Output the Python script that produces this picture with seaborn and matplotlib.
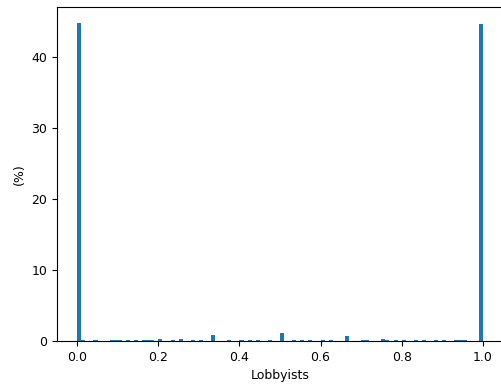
import matplotlib
matplotlib.use("Agg")
import matplotlib.pyplot as plt
import seaborn as sns
import pandas as pd

# bin centers (0.00-0.01, ..., 0.99-1.00)
bin_centers = [
    0.005, 0.015, 0.025, 0.035, 0.045, 0.055, 0.065, 0.075, 0.085, 0.095,
    0.105, 0.115, 0.125, 0.135, 0.145, 0.155, 0.165, 0.175, 0.185, 0.195,
    0.205, 0.215, 0.225, 0.235, 0.245, 0.255, 0.265, 0.275, 0.285, 0.295,
    0.305, 0.315, 0.325, 0.335, 0.345, 0.355, 0.365, 0.375, 0.385, 0.395,
    0.405, 0.415, 0.425, 0.435, 0.445, 0.455, 0.465, 0.475, 0.485, 0.495,
    0.505, 0.515, 0.525, 0.535, 0.545, 0.555, 0.565, 0.575, 0.585, 0.595,
    0.605, 0.615, 0.625, 0.635, 0.645, 0.655, 0.665, 0.675, 0.685, 0.695,
    0.705, 0.715, 0.725, 0.735, 0.745, 0.755, 0.765, 0.775, 0.785, 0.795,
    0.805, 0.815, 0.825, 0.835, 0.845, 0.855, 0.865, 0.875, 0.885, 0.895,
    0.905, 0.915, 0.925, 0.935, 0.945, 0.955, 0.965, 0.975, 0.985, 0.995,
]
# share of observations (%) in each bin
percent = [
    44.8, 0.15, 0.05, 0.03, 0.08, 0.05, 0.03, 0.05, 0.12, 0.15,
    0.10, 0.05, 0.08, 0.05, 0.18, 0.05, 0.20, 0.08, 0.15, 0.05,
    0.30, 0.05, 0.05, 0.10, 0.05, 0.22, 0.05, 0.05, 0.15, 0.05,
    0.10, 0.05, 0.05, 0.85, 0.05, 0.05, 0.05, 0.08, 0.05, 0.05,
    0.18, 0.05, 0.10, 0.05, 0.12, 0.05, 0.05, 0.08, 0.05, 0.05,
    1.15, 0.05, 0.05, 0.10, 0.05, 0.08, 0.05, 0.20, 0.05, 0.05,
    0.15, 0.05, 0.08, 0.05, 0.05, 0.05, 0.70, 0.05, 0.05, 0.05,
    0.08, 0.12, 0.05, 0.05, 0.05, 0.25, 0.10, 0.05, 0.08, 0.05,
    0.20, 0.05, 0.05, 0.10, 0.05, 0.08, 0.05, 0.05, 0.08, 0.05,
    0.10, 0.05, 0.05, 0.08, 0.20, 0.12, 0.05, 0.03, 0.05, 44.6,
]

df = pd.DataFrame({"Lobbyists": bin_centers, "pct": percent})

fig = plt.figure(figsize=(5.02, 3.86), dpi=100)
ax = fig.add_axes([57 / 502, 1 - 341 / 386, 446 / 502, 334 / 386])
sns.histplot(data=df, x="Lobbyists", weights="pct", bins=100, binrange=(0, 1),
             color="#1f77b4", alpha=1, linewidth=0, ax=ax)
ax.set_xlim(-0.05, 1.05)
ax.set_ylim(0, 44.8 * 1.05)
ax.set_xticks([0.0, 0.2, 0.4, 0.6, 0.8, 1.0])
ax.set_yticks([0, 10, 20, 30, 40])
ax.set_xlabel("Lobbyists", fontsize=9)
ax.set_ylabel("(%)", fontsize=9)
ax.tick_params(labelsize=9)
fig.savefig("out.png", dpi=100)
